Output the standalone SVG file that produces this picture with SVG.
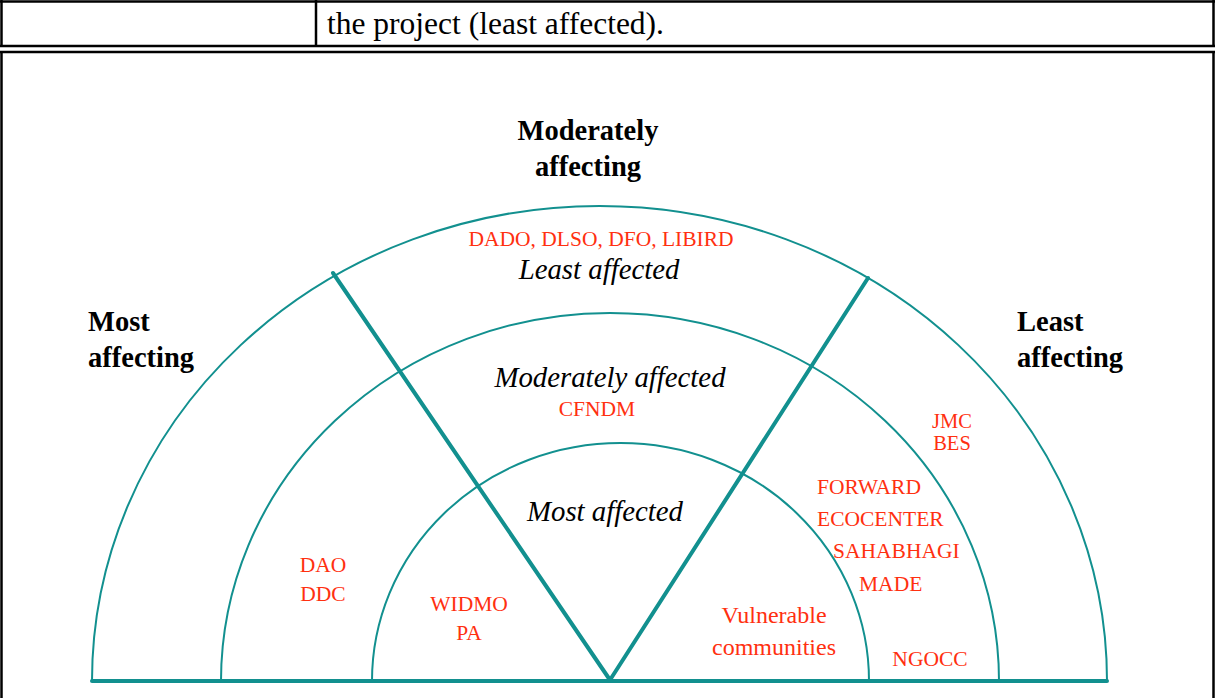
<svg xmlns="http://www.w3.org/2000/svg" width="1215" height="698" viewBox="0 0 1215 698">
<style>
.frame{fill:none;stroke:#000;stroke-width:2.5}
.arc{fill:none;stroke:#12908f;stroke-width:2}
.thick{fill:none;stroke:#12908f;stroke-width:4;stroke-linecap:round}
.hdr{font-family:"Liberation Serif","Times New Roman",serif;font-weight:bold;font-size:28.5px;fill:#000}
.it{font-family:"Liberation Serif","Times New Roman",serif;font-style:italic;font-size:28.8px;fill:#000;text-anchor:middle}
.red{font-family:"Liberation Serif","Times New Roman",serif;font-size:21.5px;fill:#ff3010}
.sm{font-size:20.5px}
.big{font-size:24px}
.c{text-anchor:middle}
</style>
<rect width="1215" height="698" fill="#fff"/>
<g id="table">
<line class="frame" x1="0" y1="1.5" x2="1215" y2="1.5"/>
<line class="frame" x1="0" y1="46" x2="1215" y2="46"/>
<line class="frame" x1="1.5" y1="0" x2="1.5" y2="46"/>
<line class="frame" x1="316" y1="0" x2="316" y2="46"/>
<line class="frame" x1="1213.5" y1="0" x2="1213.5" y2="46"/>
<text x="327" y="34" style="font-family:'Liberation Serif','Times New Roman',serif;font-size:31.5px;fill:#000">the project (least affected).</text>
<line class="frame" x1="0" y1="52" x2="1215" y2="52"/>
<line class="frame" x1="1.5" y1="52" x2="1.5" y2="698"/>
<line class="frame" x1="1213.5" y1="52" x2="1213.5" y2="698"/>
</g>
<g id="connectors">
<path id="outer-arc" class="arc" d="M92,681 A507.5,475 0 0 1 1107,681"/>
<path id="middle-arc" class="arc" d="M221,681 A389,368 0 0 1 999,681"/>
<path id="inner-arc" class="arc" d="M372,681 A248.5,238 0 0 1 869,681"/>
<line class="thick" x1="333" y1="273" x2="610" y2="680"/>
<line class="thick" x1="868" y1="278" x2="610" y2="680"/>
<line class="thick" x1="92" y1="681" x2="1107" y2="681"/>
</g>
<g id="headers">
<text class="hdr c" x="588" y="140">Moderately</text>
<text class="hdr c" x="588" y="176">affecting</text>
<text class="hdr" x="88" y="331">Most</text>
<text class="hdr" x="88" y="367">affecting</text>
<text class="hdr" x="1017" y="331">Least</text>
<text class="hdr" x="1017" y="367">affecting</text>
</g>
<g id="zones">
<text class="it" x="599" y="279">Least affected</text>
<text class="it" x="610" y="387">Moderately affected</text>
<text class="it" x="605" y="521">Most affected</text>
</g>
<g id="stakeholders">
<text class="red c" x="601" y="246">DADO, DLSO, DFO, LIBIRD</text>
<text class="red c" x="597" y="416">CFNDM</text>
<text class="red sm c" x="952" y="428">JMC</text>
<text class="red sm c" x="952" y="450">BES</text>
<text class="red" x="817" y="494">FORWARD</text>
<text class="red" x="817" y="526">ECOCENTER</text>
<text class="red" x="833" y="558">SAHABHAGI</text>
<text class="red" x="859" y="591">MADE</text>
<text class="red c" x="323" y="572">DAO</text>
<text class="red c" x="323" y="601">DDC</text>
<text class="red c" x="469" y="611">WIDMO</text>
<text class="red c" x="469" y="640">PA</text>
<text class="red big c" x="774" y="623">Vulnerable</text>
<text class="red big c" x="774" y="655">communities</text>
<text class="red c" x="930" y="666">NGOCC</text>
</g>
</svg>
